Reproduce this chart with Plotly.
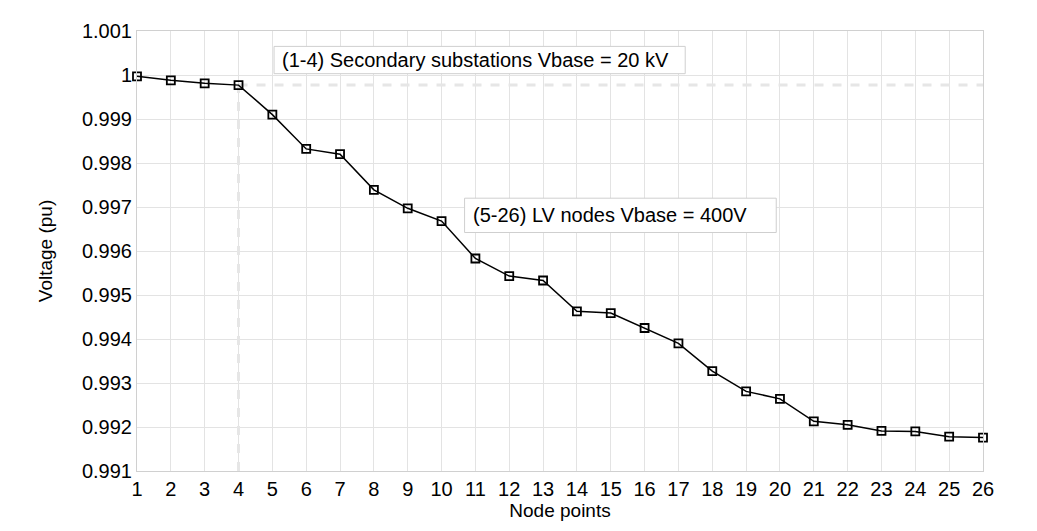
import plotly.graph_objects as go

# Node voltage profile along the feeder
nodes = list(range(1, 27))
voltage = [
    0.99997, 0.99988, 0.99981, 0.99977, 0.99910, 0.99832, 0.99820, 0.99739,
    0.99697, 0.99668, 0.99583, 0.99543, 0.99533, 0.99463, 0.99459, 0.99425,
    0.99390, 0.99327, 0.99281, 0.99264, 0.99213, 0.99205, 0.99191, 0.99190,
    0.99178, 0.99176,
]
y_ticks = [0.991, 0.992, 0.993, 0.994, 0.995, 0.996, 0.997, 0.998, 0.999, 1.0, 1.001]
y_tick_labels = ["0.991", "0.992", "0.993", "0.994", "0.995", "0.996",
                 "0.997", "0.998", "0.999", "1", "1.001"]

# MV / LV split happens after node 4
split_idx = 3

font_family = "Arial, Liberation Sans, sans-serif"
grid_col = "#e3e3e3"
dash_col = "#e6e6e6"

fig = go.Figure()

# dashed guide lines marking the end of the 20 kV section
fig.add_trace(go.Scatter(
    x=[nodes[split_idx], nodes[split_idx]],
    y=[y_ticks[0], voltage[split_idx]],
    mode="lines",
    line=dict(color=dash_col, width=3, dash="dash"),
    hoverinfo="skip",
    showlegend=False,
))
fig.add_trace(go.Scatter(
    x=[nodes[split_idx], nodes[-1]],
    y=[voltage[split_idx], voltage[split_idx]],
    mode="lines",
    line=dict(color=dash_col, width=3, dash="dash"),
    hoverinfo="skip",
    showlegend=False,
))

fig.add_trace(go.Scatter(
    x=nodes,
    y=voltage,
    mode="lines+markers",
    line=dict(color="black", width=1.5),
    marker=dict(symbol="square-open", size=8, color="black", line=dict(width=1.8)),
    cliponaxis=False,
    showlegend=False,
))

# text boxes
boxes = [
    dict(x0=5.05, x1=17.2, y0=1.00003, y1=1.00065, tx=5.22,
         text="(1-4) Secondary substations Vbase = 20 kV"),
    dict(x0=10.68, x1=19.89, y0=0.99642, y1=0.99720, tx=10.86,
         text="(5-26) LV nodes Vbase = 400V"),
]
for b in boxes:
    fig.add_shape(type="rect", xref="x", yref="y",
                  x0=b["x0"], x1=b["x1"], y0=b["y0"], y1=b["y1"],
                  fillcolor="white", line=dict(color="#cfcfcf", width=1),
                  layer="above")
    fig.add_annotation(x=b["tx"], y=(b["y0"] + b["y1"]) / 2, xref="x", yref="y",
                       text=b["text"], showarrow=False, xanchor="left",
                       yanchor="middle",
                       font=dict(size=20, color="black", family=font_family))

# the page body adds an 8px offset, margins compensate for it
fig.update_layout(
    width=1037,
    height=531,
    margin=dict(l=129, r=62, t=16, b=68),
    paper_bgcolor="white",
    plot_bgcolor="white",
    font=dict(family=font_family, size=20, color="black"),
    xaxis=dict(
        range=[1, 26],
        tickmode="array",
        tickvals=nodes,
        ticktext=[str(n) for n in nodes],
        showgrid=True,
        gridcolor=grid_col,
        gridwidth=1,
        showline=True,
        linecolor="#d0d0d0",
        linewidth=1,
        mirror=True,
        zeroline=False,
        ticks="",
        title=dict(text="Node points", standoff=0, font=dict(size=19)),
        tickfont=dict(size=20),
    ),
    yaxis=dict(
        range=[0.991, 1.001],
        tickmode="array",
        tickvals=y_ticks,
        ticktext=y_tick_labels,
        showgrid=True,
        gridcolor=grid_col,
        gridwidth=1,
        showline=True,
        linecolor="#d0d0d0",
        linewidth=1,
        mirror=True,
        zeroline=False,
        ticks="",
        title=dict(text="Voltage (pu)", standoff=24, font=dict(size=19)),
        tickfont=dict(size=20),
    ),
)

fig.write_html("out.html")
